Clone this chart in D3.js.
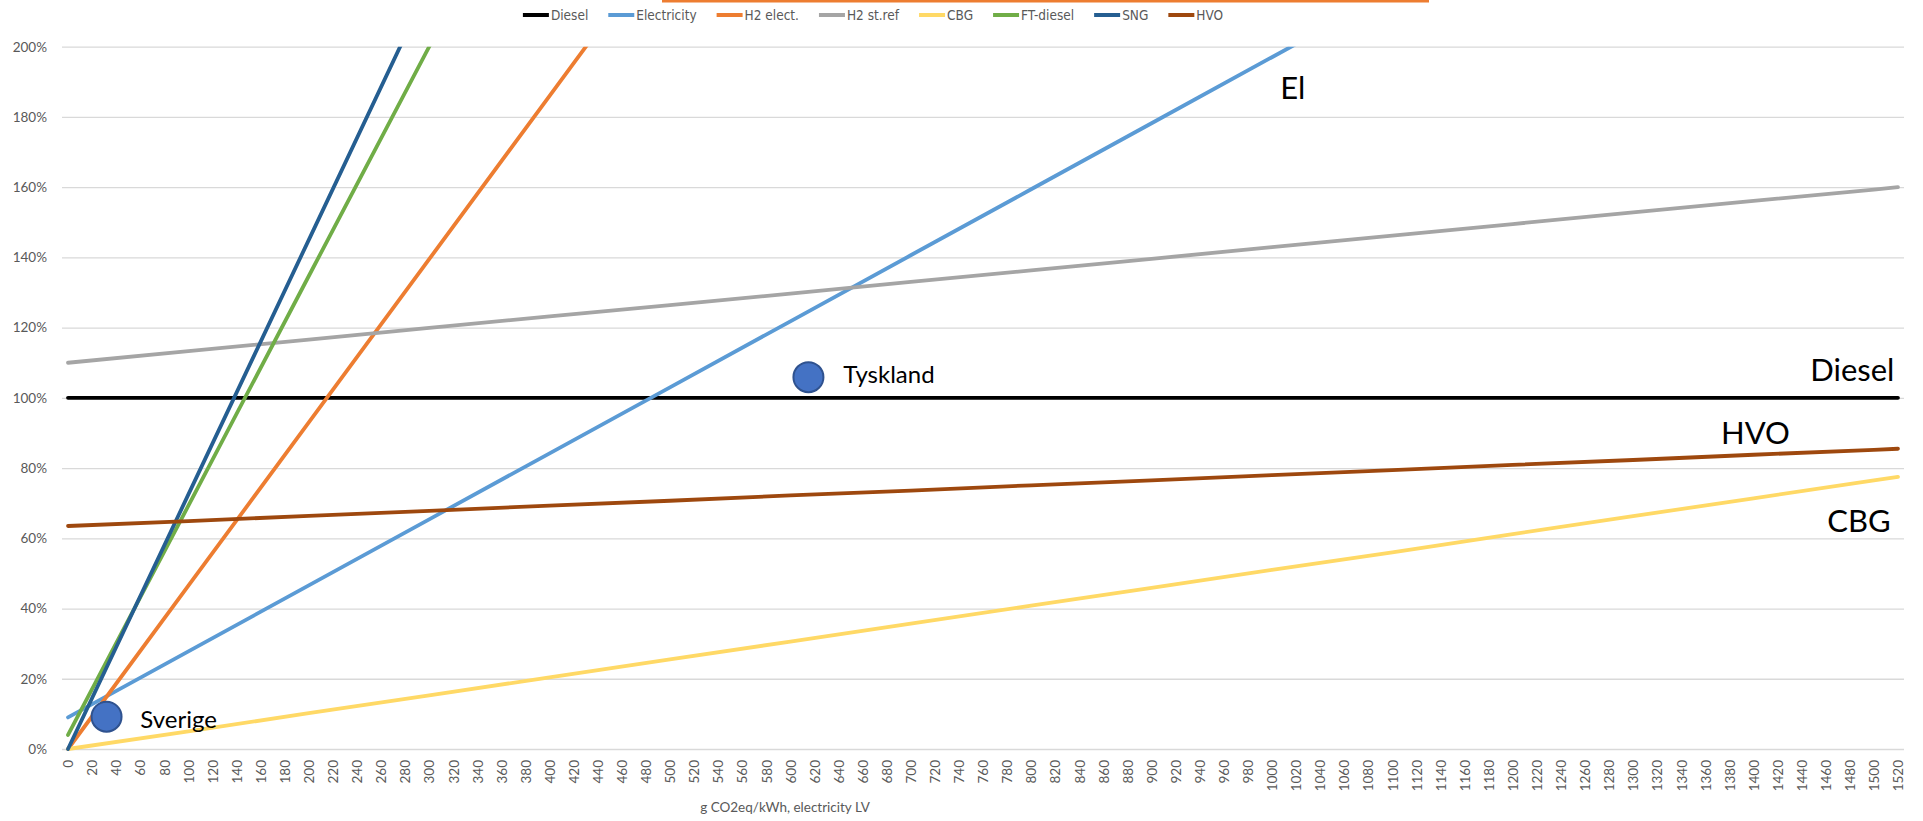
<!DOCTYPE html>
<html><head><meta charset="utf-8">
<script src="https://cdn.jsdelivr.net/npm/d3@7"></script>
<style>
html,body{margin:0;padding:0;background:#fff;}
svg{display:block;}
</style></head>
<body>
<svg id="chart" width="1923" height="821"></svg>
<script>
// ---------- DATA ----------
const xTicks = d3.range(0, 1521, 20);            // category tick labels
const yTicks = [0,0.2,0.4,0.6,0.8,1.0,1.2,1.4,1.6,1.8,2.0];
const seriesNames  = ["Diesel","Electricity","H2 elect.","H2 st.ref","CBG","FT-diesel","SNG","HVO"];
const seriesColors = ["#000000","#5B9BD5","#ED7D31","#A5A5A5","#FFD966","#70AD47","#255E91","#9E480E"];

const xDiesel = [0, 1520];
const diesel  = [1.00, 1.00];

const xElectricity = [0,100,200,300,400,500,600,700,800,900,1000,1100];
const electricity  = [0.09,0.278,0.466,0.654,0.842,1.03,1.218,1.406,1.594,1.782,1.97,2.158];

const xH2elect = [0,100,200,300,400,500];
const h2elect  = [0.0,0.465,0.93,1.395,1.86,2.325];

const xLong = [0,100,200,300,400,500,600,700,800,900,1000,1100,1200,1300,1400,1500,1520];
const h2stref = [1.10,1.133,1.166,1.199,1.232,1.264,1.297,1.33,1.363,1.396,1.429,1.462,1.495,1.528,1.561,1.593,1.60];
const cbg     = [0.0,0.05,0.102,0.153,0.204,0.255,0.306,0.357,0.408,0.459,0.51,0.56,0.612,0.663,0.714,0.765,0.775];
const hvo     = [0.635,0.649,0.664,0.678,0.693,0.707,0.722,0.736,0.751,0.765,0.78,0.794,0.809,0.823,0.838,0.852,0.855];

const xFT = [0,100,200,300,400];
const ftdiesel = [0.04,0.693,1.347,2.0,2.653];

const xSNG = [0,100,200,300];
const sng  = [0.0,0.725,1.45,2.175];

const countries   = ["Sverige","Tyskland"];
const countryX    = [32, 615];
const countryY    = [0.092, 1.059];
const countryLabX = [60, 644];
const countryLabY = [0.06, 1.041];

const annoText = ["El","Diesel","HVO","CBG"];
const annoX    = [1007,1517,1373,1514];
const annoY    = [1.85,1.049,0.869,0.619];
const annoAnchor = ["start","end","start","end"];

const xTitle = "g CO2eq/kWh, electricity LV";

// ---------- CHART ----------
const svg = d3.select("#chart");
const pLeft = 62, pRight = 1904, pTop = 46.7, pBottom = 749;
const x = d3.scaleLinear().domain([-5, 1525]).range([pLeft, pRight]);
const y = d3.scaleLinear().domain([0, 2]).range([pBottom, pTop]);
const FONT = "Lato, 'Open Sans', sans-serif";

// orange strip at top (cropped slide element)
svg.append("rect").attr("x",662).attr("y",0).attr("width",767).attr("height",2.5).attr("fill","#ED7D31");

// gridlines + y labels
const yAxis = d3.axisLeft(y).tickValues(yTicks).tickFormat(d3.format(".0%")).tickSize(-(pRight-pLeft)).tickPadding(15);
const gy = svg.append("g").attr("transform",`translate(${pLeft},0)`).call(yAxis);
gy.select(".domain").remove();
gy.selectAll(".tick line").attr("stroke","#D9D9D9").attr("stroke-width",1.3);
gy.selectAll(".tick text").attr("fill","#595959").attr("font-family",FONT).attr("font-size",13.5);

// x axis
const xAxis = d3.axisBottom(x).tickValues(xTicks).tickSize(0).tickPadding(0).tickFormat(d3.format("d"));
const gx = svg.append("g").attr("transform",`translate(0,${pBottom})`).call(xAxis);
gx.select(".domain").remove();
gx.selectAll(".tick text")
  .attr("fill","#595959").attr("font-family",FONT).attr("font-size",13.5)
  .attr("transform","rotate(-90)").attr("text-anchor","end").attr("x",-11).attr("y",0).attr("dy","0.35em");

svg.append("text").attr("x",785).attr("y",812).attr("text-anchor","middle")
  .attr("fill","#595959").attr("font-family",FONT).attr("font-size",13.5).text(xTitle);

// clip
svg.append("clipPath").attr("id","plotclip").append("rect")
  .attr("x",pLeft).attr("y",pTop).attr("width",pRight-pLeft).attr("height",pBottom-pTop+4);

const line = d3.line().x(d=>x(d[0])).y(d=>y(d[1]));
const seriesData = [
  d3.zip(xDiesel, diesel),
  d3.zip(xElectricity, electricity),
  d3.zip(xH2elect, h2elect),
  d3.zip(xLong, h2stref),
  d3.zip(xLong, cbg),
  d3.zip(xFT, ftdiesel),
  d3.zip(xSNG, sng),
  d3.zip(xLong, hvo)
];
const gl = svg.append("g").attr("clip-path","url(#plotclip)");
seriesData.forEach((pts,i)=>{
  gl.append("path").datum(pts).attr("d",line).attr("fill","none")
    .attr("stroke",seriesColors[i]).attr("stroke-width",3.8).attr("stroke-linecap","round").attr("stroke-linejoin","round");
});

// country markers
countries.forEach((c,i)=>{
  svg.append("circle").attr("cx",x(countryX[i])).attr("cy",y(countryY[i])).attr("r",15)
    .attr("fill","#4472C4").attr("stroke","#2F528F").attr("stroke-width",2);
  svg.append("text").attr("x",x(countryLabX[i])).attr("y",y(countryLabY[i]))
    .attr("font-family",FONT).attr("font-size",24).attr("fill","#000").text(c);
});

// annotations
annoText.forEach((t,i)=>{
  svg.append("text").attr("x",x(annoX[i])).attr("y",y(annoY[i])).attr("text-anchor",annoAnchor[i])
    .attr("font-family",FONT).attr("font-size",31).attr("fill","#000").text(t);
});

// legend
const lg = svg.append("g").attr("transform","translate(0,15)");
const items = [];
seriesNames.forEach((n,i)=>{
  const g = lg.append("g");
  g.append("line").attr("x1",0).attr("x2",26).attr("y1",0).attr("y2",0).attr("stroke",seriesColors[i]).attr("stroke-width",4);
  const t = g.append("text").attr("x",28).attr("y",0).attr("dy","0.35em")
    .attr("font-family","'Liberation Sans Narrow','DejaVu Sans Condensed', sans-serif").attr("font-size",13.5).attr("fill","#595959").text(n);
  const w = 28 + t.node().getComputedTextLength();
  items.push({g,w});
});
const gap = 20;
const total = d3.sum(items,d=>d.w) + gap*(items.length-1);
let startX = 873 - total/2;
items.forEach(it=>{ it.g.attr("transform",`translate(${startX},0)`); startX += it.w + gap; });
</script>
</body></html>
